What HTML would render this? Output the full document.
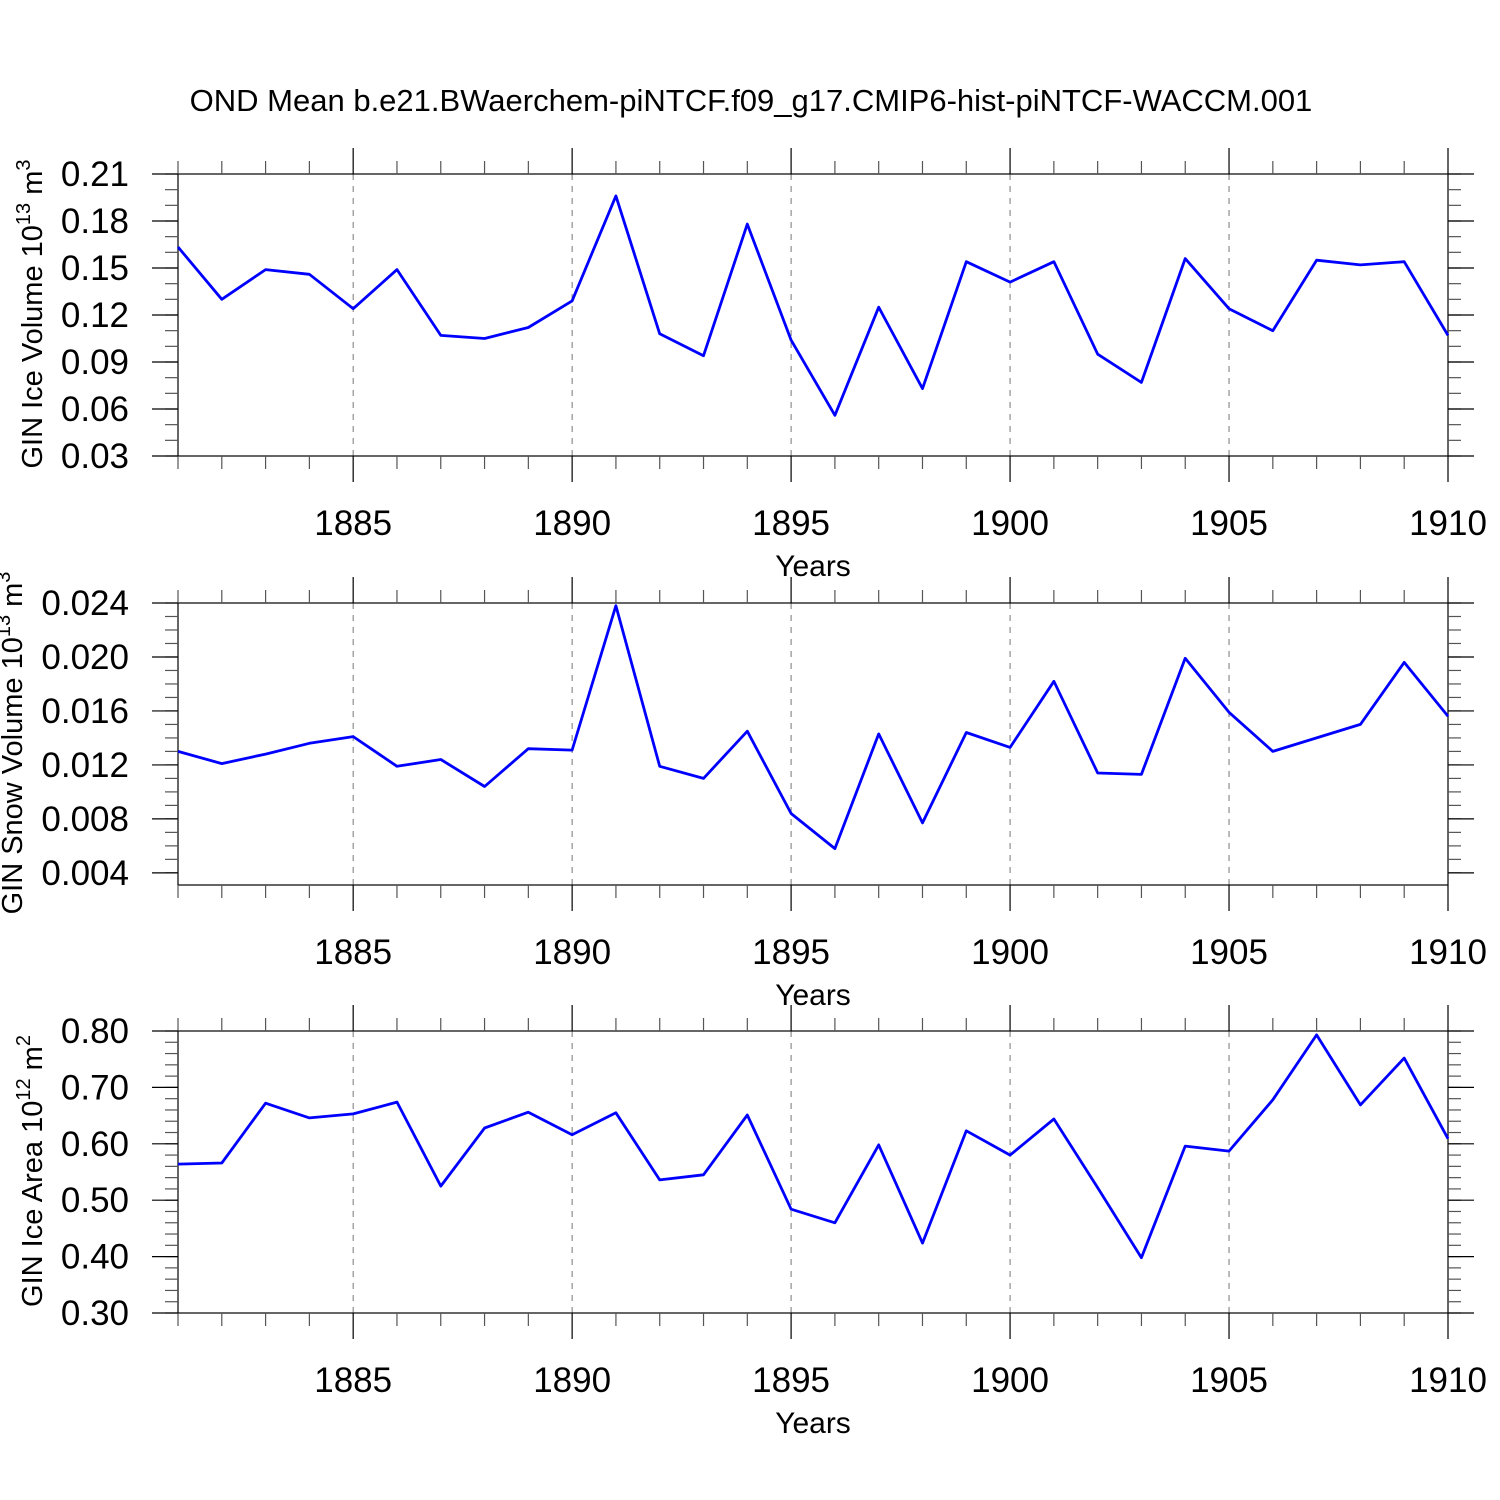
<!DOCTYPE html>
<html><head><meta charset="utf-8"><style>
html,body{margin:0;padding:0;background:#fff;}
svg{display:block;font-family:"Liberation Sans",Arial,sans-serif;}
</style></head><body>
<svg id="chart" width="1500" height="1500" viewBox="0 0 1500 1500" xmlns="http://www.w3.org/2000/svg">
<rect width="1500" height="1500" fill="#fff"/>
<text x="751" y="111" font-size="31" text-anchor="middle">OND Mean b.e21.BWaerchem-piNTCF.f09_g17.CMIP6-hist-piNTCF-WACCM.001</text>
</svg>
<script>
const years = [1881,1882,1883,1884,1885,1886,1887,1888,1889,1890,1891,1892,1893,1894,1895,1896,1897,1898,1899,1900,1901,1902,1903,1904,1905,1906,1907,1908,1909,1910];
const iceVolume = [0.1634,0.130,0.149,0.146,0.124,0.149,0.107,0.105,0.112,0.129,0.196,0.108,0.094,0.178,0.104,0.056,0.125,0.073,0.154,0.141,0.154,0.095,0.077,0.156,0.124,0.110,0.155,0.152,0.154,0.107];
const snowVolume = [0.0130,0.0121,0.0128,0.0136,0.0141,0.0119,0.0124,0.0104,0.0132,0.0131,0.0238,0.0119,0.0110,0.0145,0.0084,0.0058,0.0143,0.0077,0.0144,0.0133,0.0182,0.0114,0.0113,0.0199,0.0159,0.0130,0.0140,0.0150,0.0196,0.0156];
const iceArea = [0.564,0.566,0.672,0.646,0.653,0.674,0.525,0.628,0.656,0.616,0.655,0.536,0.545,0.651,0.484,0.460,0.598,0.424,0.623,0.580,0.644,0.522,0.398,0.596,0.587,0.678,0.793,0.669,0.752,0.609];
const xTickLabels = [1885,1890,1895,1900,1905,1910];
const ticks1 = ["0.03","0.06","0.09","0.12","0.15","0.18","0.21"];
const ticks2 = ["0.004","0.008","0.012","0.016","0.020","0.024"];
const ticks3 = ["0.30","0.40","0.50","0.60","0.70","0.80"];

const NS = "http://www.w3.org/2000/svg";
const svg = document.getElementById('chart');
const X0 = 178, X1 = 1448, H = 282;
function xs(yr){ return X0 + (yr - 1881) * (X1 - X0) / 29; }
function mk(tag, attrs, parent){
  const e = document.createElementNS(NS, tag);
  for (const k in attrs) e.setAttribute(k, attrs[k]);
  (parent || svg).appendChild(e);
  return e;
}

function panel(top, ymin, ymax, ticks, minorStep, values, titleMain, titleExp, titleUnit, unitExp, key, titleX){
  const g = mk('g', {});
  
  
  const bot = top + H;
  const ys = v => bot - (v - ymin) / (ymax - ymin) * H;
  for (const yr of xTickLabels) {
    if (yr >= 1910) continue;
    const l = mk('line', {x1: xs(yr), x2: xs(yr), y1: top, y2: bot, stroke: '#777', 'stroke-width': 1, 'stroke-dasharray': '6,6'}, g);
    
    
  }
  const fr = mk('rect', {x: X0, y: top, width: X1 - X0, height: H, fill: 'none', stroke: '#000', 'stroke-width': 1.2}, g);
  
  
  for (const yr of years) {
    const major = yr % 5 === 0;
    const len = major ? 26 : 13;
    const c = major ? '#000' : '#555';
    mk('line', {x1: xs(yr), x2: xs(yr), y1: top - len, y2: top, stroke: c, 'stroke-width': 1.2}, g);
    mk('line', {x1: xs(yr), x2: xs(yr), y1: bot, y2: bot + len, stroke: c, 'stroke-width': 1.2}, g);
  }
  const start = Math.ceil(ymin / minorStep - 1e-6);
  for (let i = start; i * minorStep <= ymax + 1e-9; i++) {
    const v = i * minorStep, y = ys(v);
    mk('line', {x1: X0 - 13, x2: X0, y1: y, y2: y, stroke: '#555', 'stroke-width': 1.2}, g);
    mk('line', {x1: X1, x2: X1 + 13, y1: y, y2: y, stroke: '#555', 'stroke-width': 1.2}, g);
  }
  for (const t of ticks) {
    const y = ys(parseFloat(t));
    mk('line', {x1: X0 - 26, x2: X0, y1: y, y2: y, stroke: '#000', 'stroke-width': 1.2}, g);
    mk('line', {x1: X1, x2: X1 + 26, y1: y, y2: y, stroke: '#000', 'stroke-width': 1.2}, g);
    const tx = mk('text', {x: 129, y: y + 12, 'font-size': 35, 'text-anchor': 'end'}, g);
    tx.textContent = t;
    
    
  }
  for (const yr of xTickLabels) {
    const tx = mk('text', {x: xs(yr), y: bot + 79, 'font-size': 35, 'text-anchor': 'middle'}, g);
    tx.textContent = yr;
    
    
  }
  const xt = mk('text', {x: 813, y: bot + 120, 'font-size': 30, 'text-anchor': 'middle'}, g);
  xt.textContent = 'Years';
  
  
  const yt = mk('text', {x: 0, y: 0, 'font-size': 29, 'text-anchor': 'middle', transform: 'translate(' + titleX + ',' + (top + 140) + ') rotate(-90)'}, g);
  
  
  const s1 = mk('tspan', {}, yt); s1.textContent = titleMain;
  const s2 = mk('tspan', {dy: -12, 'font-size': 20}, yt); s2.textContent = titleExp;
  const s3 = mk('tspan', {dy: 12}, yt); s3.textContent = titleUnit;
  const s4 = mk('tspan', {dy: -12, 'font-size': 20}, yt); s4.textContent = unitExp;
  const pts = years.map((yr, i) => xs(yr).toFixed(1) + ',' + ys(values[i]).toFixed(1)).join(' ');
  const pl = mk('polyline', {points: pts, fill: 'none', stroke: '#0000ff', 'stroke-width': 2.8, 'stroke-linejoin': 'round'}, g);
  
  
}

panel(174, 0.03, 0.21, ticks1, 0.01, iceVolume, 'GIN Ice Volume 10', '13', ' m', '3', 'ice-volume', 42);
panel(603, 0.0031, 0.024, ticks2, 0.001, snowVolume, 'GIN Snow Volume 10', '13', ' m', '3', 'snow-volume', 22);
panel(1031, 0.30, 0.80, ticks3, 0.02, iceArea, 'GIN Ice Area 10', '12', ' m', '2', 'ice-area', 42);
</script>
</body></html>
